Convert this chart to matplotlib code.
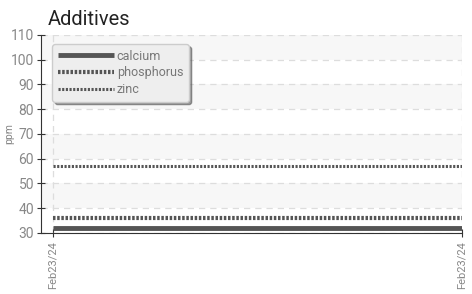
import matplotlib.pyplot as plt

dates = ["Feb23/24", "Feb23/24"]
x_pos = [0, 1]
calcium = [32, 32]
phosphorus = [36, 36]
zinc = [57, 57]
yticks = [30, 40, 50, 60, 70, 80, 90, 100, 110]

plt.rcParams['font.family'] = ['Roboto', 'DejaVu Sans']

fig = plt.figure(figsize=(4.72, 2.94), dpi=100)
ax = fig.add_axes([0.087, 0.2075, 0.892, 0.674])

# alternating bands
for lo in [40, 60, 80, 100]:
    ax.axhspan(lo, lo + 10, color="#f7f7f7", zorder=0, lw=0)

ax.plot(x_pos, calcium, c="#555555", lw=3.5, solid_capstyle="butt", label="calcium", zorder=3)
ax.plot(x_pos, phosphorus, c="#555555", lw=3, linestyle=(0, (0.6, 0.4)), label="phosphorus", zorder=3)
ax.plot(x_pos, zinc, c="#555555", lw=2.2, linestyle=(0, (0.7, 0.5)), label="zinc", zorder=3)

ax.set_xlim(-0.0293, 1.0)
ax.set_ylim(30, 110)
ax.set_yticks(yticks)
ax.set_xticks(x_pos)
ax.set_xticklabels(dates, rotation=90)

ax.grid(True, color="#dddddd", linestyle=(0, (5, 4)), lw=0.9, zorder=1)
for s in ["top", "right"]:
    ax.spines[s].set_visible(False)
ax.spines["left"].set_color("#333333")
ax.spines["bottom"].set_color("#333333")
ax.tick_params(axis="both", direction="inout", length=6, colors="#333333",
               labelcolor="#888888", labelsize=10)
ax.tick_params(axis="y", pad=2)
ax.tick_params(axis="x", labelsize=8, pad=3)

ax.set_ylabel("ppm", color="#888888", fontsize=7.5)
ax.yaxis.set_label_coords(-0.063, 0.5)
fig.text(0.101, 0.915, "Additives", fontsize=14.5, color="#222222", ha="left")

leg = ax.legend(loc="upper left", bbox_to_anchor=(0.012, 0.985), fontsize=9,
                handlelength=4.5, handletextpad=0.2, labelspacing=0.3,
                fancybox=True, shadow=True, framealpha=1, borderpad=0.45)
leg.get_frame().set_facecolor("#eeeeee")
leg.get_frame().set_edgecolor("#cccccc")
for t in leg.get_texts():
    t.set_color("#777777")

fig.savefig("out.png", dpi=100)
